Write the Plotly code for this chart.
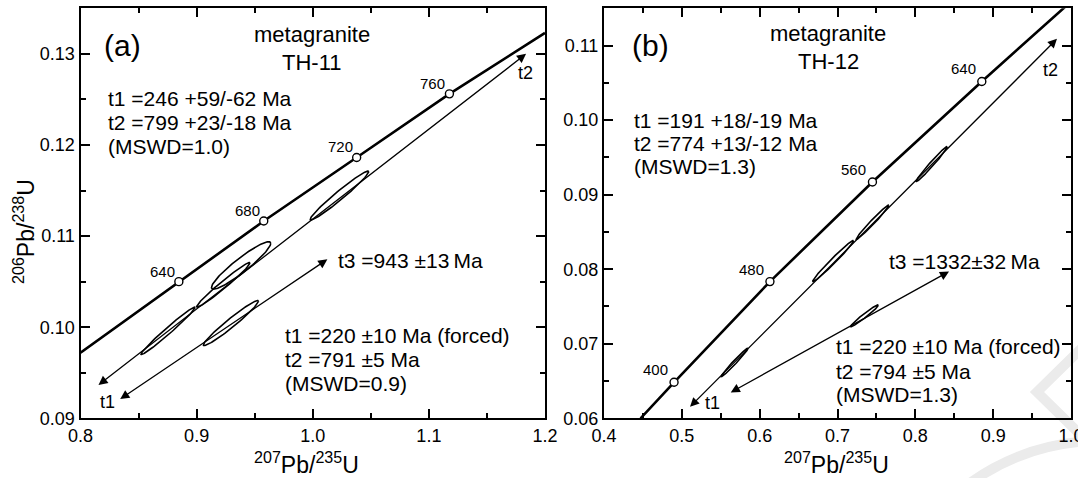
import numpy as np
import plotly.graph_objects as go

# ---------------- Panel (a) TH-11 ----------------
conc_a_x = [0.800, 0.8847, 0.9578, 1.0378, 1.1177, 1.200]
conc_a_y = [0.0972, 0.1050, 0.11165, 0.11863, 0.12561, 0.1323]
mark_a_age = ["640", "680", "720", "760"]
mark_a_x = [0.8847, 0.9578, 1.0378, 1.1177]
mark_a_y = [0.1050, 0.11165, 0.11863, 0.12561]

# discordia lines (start, end) with arrows at both ends
disc_a_x0 = [0.8142, 0.8329]
disc_a_y0 = [0.09353, 0.0920]
disc_a_x1 = [1.1837, 1.0126]
disc_a_y1 = [0.1300, 0.10745]

# error ellipses: centre, half-extent x, half-extent y, correlation
ell_a_cx = [0.8754, 0.9383, 0.9230, 1.0230, 0.9295]
ell_a_cy = [0.0996, 0.10678, 0.10465, 0.11445, 0.10045]
ell_a_sx = [0.0233, 0.0255, 0.0230, 0.0252, 0.0237]
ell_a_sy = [0.0026, 0.0026, 0.00245, 0.00268, 0.00247]
ell_a_rho = [0.985, 0.93, 0.98, 0.975, 0.97]

# ---------------- Panel (b) TH-12 ----------------
conc_b_x = [0.447, 0.490, 0.6132, 0.7449, 0.8854, 1.000]
conc_b_y = [0.0600, 0.06483, 0.07834, 0.0917, 0.10518, 0.1159]
mark_b_age = ["400", "480", "560", "640"]
mark_b_x = [0.490, 0.6132, 0.7449, 0.8854]
mark_b_y = [0.06483, 0.07834, 0.0917, 0.10518]

disc_b_x0 = [0.5086, 0.5609]
disc_b_y0 = [0.06134, 0.06336]
disc_b_x1 = [0.9820, 0.8433]
disc_b_y1 = [0.1109, 0.07969]

ell_b_cx = [0.5678, 0.6944, 0.7450, 0.8210, 0.7347]
ell_b_cy = [0.0675, 0.0811, 0.0863, 0.0941, 0.07375]
ell_b_sx = [0.0171, 0.0262, 0.0210, 0.0200, 0.0178]
ell_b_sy = [0.0019, 0.00275, 0.0023, 0.00234, 0.00146]
ell_b_rho = [0.985, 0.985, 0.985, 0.985, 0.975]

FONT = "Arial, Liberation Sans, sans-serif"
BLACK = "black"

fig = go.Figure()


def ellipse(cx, cy, sx, sy, rho, n=120):
    t = np.linspace(0, 2 * np.pi, n)
    x = cx + sx * np.cos(t)
    y = cy + sy * (rho * np.cos(t) + np.sqrt(1 - rho ** 2) * np.sin(t))
    return x, y


def add_panel(cx_l, cy_l, sx_l, sy_l, rho_l, conc_x, conc_y, mx, my, xa, ya):
    for cx, cy, sx, sy, rho in zip(cx_l, cy_l, sx_l, sy_l, rho_l):
        ex, ey = ellipse(cx, cy, sx, sy, rho)
        fig.add_trace(go.Scatter(x=ex, y=ey, mode="lines",
                                 line=dict(color=BLACK, width=1.6),
                                 xaxis=xa, yaxis=ya, hoverinfo="skip"))
    fig.add_trace(go.Scatter(x=conc_x, y=conc_y, mode="lines",
                             line=dict(color=BLACK, width=2.6),
                             xaxis=xa, yaxis=ya, hoverinfo="skip"))
    fig.add_trace(go.Scatter(x=mx, y=my, mode="markers",
                             marker=dict(symbol="circle", size=8, color="white",
                                         line=dict(color=BLACK, width=1.4)),
                             xaxis=xa, yaxis=ya, hoverinfo="skip"))


add_panel(ell_a_cx, ell_a_cy, ell_a_sx, ell_a_sy, ell_a_rho,
          conc_a_x, conc_a_y, mark_a_x, mark_a_y, "x", "y")
add_panel(ell_b_cx, ell_b_cy, ell_b_sx, ell_b_sy, ell_b_rho,
          conc_b_x, conc_b_y, mark_b_x, mark_b_y, "x2", "y2")

ann = []


def arrow(x0, y0, x1, y1, xr, yr):
    ann.append(dict(x=x1, y=y1, ax=x0, ay=y0, xref=xr, yref=yr, axref=xr, ayref=yr,
                    text="", showarrow=True, arrowside="end+start", arrowhead=2,
                    arrowsize=1.4, arrowwidth=1.3, arrowcolor=BLACK,
                    standoff=0, startstandoff=0))


for i in range(2):
    arrow(disc_a_x0[i], disc_a_y0[i], disc_a_x1[i], disc_a_y1[i], "x", "y")
    arrow(disc_b_x0[i], disc_b_y0[i], disc_b_x1[i], disc_b_y1[i], "x2", "y2")


def txt(x, y, s, xr, yr, size=21, xanchor="left", yanchor="middle", **kw):
    d = dict(x=x, y=y, text=s, xref=xr, yref=yr, showarrow=False,
             xanchor=xanchor, yanchor=yanchor,
             font=dict(family=FONT, size=size, color=BLACK))
    d.update(kw)
    ann.append(d)


# age labels on concordia
for lab, x, y in zip(mark_a_age, mark_a_x, mark_a_y):
    txt(x, y, lab, "x", "y", size=15, xanchor="right", yanchor="bottom", xshift=-2, yshift=0)
for lab, x, y in zip(mark_b_age, mark_b_x, mark_b_y):
    txt(x, y, lab, "x2", "y2", size=15, xanchor="right", yanchor="bottom", xshift=-4, yshift=2)

# panel (a) texts
txt(0.8364, 0.13095, "(a)", "x", "y", size=30, xanchor="center")
txt(0.9993, 0.1321, "metagranite", "x", "y", size=22, xanchor="center")
txt(0.9993, 0.1290, "TH-11", "x", "y", size=22, xanchor="center")
for s, y in zip(["t1 =246 +59/-62 Ma", "t2 =799 +23/-18 Ma", "(MSWD=1.0)"],
                [0.12506, 0.12243, 0.11987]):
    txt(0.8216, y, s, "x", "y")
txt(1.020, 0.10727, "t3 =943 ±13\u2009Ma", "x", "y")
for s, y in zip(["t1 =220 ±10 Ma (forced)", "t2 =791 ±5 Ma", "(MSWD=0.9)"],
                [0.09909, 0.09644, 0.09382]):
    txt(0.9741, y, s, "x", "y")
txt(0.8231, 0.09182, "t1", "x", "y", size=18, xanchor="center")
txt(1.1829, 0.12792, "t2", "x", "y", size=18, xanchor="center")

# panel (b) texts
txt(0.4598, 0.1100, "(b)", "x2", "y2", size=30, xanchor="center")
txt(0.6881, 0.11165, "metagranite", "x2", "y2", size=22, xanchor="center")
txt(0.6881, 0.10786, "TH-12", "x2", "y2", size=22, xanchor="center")
for s, y in zip(["t1 =191 +18/-19 Ma", "t2 =774 +13/-12 Ma", "(MSWD=1.3)"],
                [0.1000, 0.09692, 0.0938]):
    txt(0.4355, y, s, "x2", "y2")
txt(0.7635, 0.0810, "t3 =1332±32\u2009Ma", "x2", "y2")
for s, y in zip(["t1 =220 ±10 Ma (forced)", "t2 =794 ±5 Ma", "(MSWD=1.3)"],
                [0.06962, 0.06626, 0.06313]):
    txt(0.6957, y, s, "x2", "y2")
txt(0.5396, 0.06201, "t1", "x2", "y2", size=18, xanchor="center")
txt(0.974, 0.1067, "t2", "x2", "y2", size=18, xanchor="center")

# axis titles
xt = "<sup>207</sup>Pb/<sup>235</sup>U"
yt = "<sup>206</sup>Pb/<sup>238</sup>U"
txt(306.7 / 1078, 1 - 463 / 478, xt, "paper", "paper", size=23, xanchor="center")
txt(836 / 1078, 1 - 463 / 478, xt, "paper", "paper", size=23, xanchor="center")
txt(24 / 1078, 1 - 232 / 478, yt, "paper", "paper", size=23, xanchor="center",
    textangle=-90)

W, H = 1078, 478
ydom = [1 - 418.3 / H, 1 - 8.3 / H]


def xaxis(dom, rng, anchor):
    return dict(domain=dom, range=rng, anchor=anchor, dtick=0.1, tick0=0.0,
                tickformat=".1f", ticks="inside", ticklen=9, tickwidth=1.5,
                tickcolor=BLACK, showline=True, linewidth=2, linecolor=BLACK,
                mirror="ticks", showgrid=False, zeroline=False, automargin=False,
                ticklabeloverflow="allow",
                tickfont=dict(family=FONT, size=18, color=BLACK),
                minor=dict(ticks="inside", dtick=0.05, ticklen=5, tickwidth=1.5,
                           tickcolor=BLACK, showgrid=False))


def yaxis(rng, anchor):
    return dict(domain=ydom, range=rng, anchor=anchor, dtick=0.01, tick0=0.0,
                tickformat=".2f", ticks="inside", ticklen=9, tickwidth=1.5,
                tickcolor=BLACK, showline=True, linewidth=2, linecolor=BLACK,
                mirror="ticks", showgrid=False, zeroline=False, automargin=False,
                ticklabeloverflow="allow",
                tickfont=dict(family=FONT, size=18, color=BLACK),
                minor=dict(ticks="inside", dtick=0.005, ticklen=5, tickwidth=1.5,
                           tickcolor=BLACK, showgrid=False))


# faint watermark in the lower right corner
shapes = [
    dict(type="circle", xref="paper", yref="paper", layer="below",
         x0=878 / W, x1=1322 / W, y0=1 - 885 / H, y1=1 - 441 / H,
         line=dict(color="#ebebeb", width=10)),
    dict(type="path", xref="paper", yref="paper", layer="below",
         path=f"M {1090 / W} {1 - 340 / H} L {1037 / W} {1 - 392 / H} L {1090 / W} {1 - 444 / H}",
         line=dict(color="#ebebeb", width=10)),
]

fig.update_layout(
    width=W, height=H, margin=dict(l=0, r=0, t=0, b=0, autoexpand=False),
    paper_bgcolor="white", plot_bgcolor="rgba(0,0,0,0)", showlegend=False,
    xaxis=xaxis([80.5 / W, 545 / W], [0.8, 1.2], "y"),
    yaxis=yaxis([0.09, 0.135], "x"),
    xaxis2=xaxis([604 / W, 1071 / W], [0.4, 1.0], "y2"),
    yaxis2=yaxis([0.06, 0.115], "x2"),
    annotations=ann, shapes=shapes,
)

fig.write_html(
    "out.html",
    config={"displayModeBar": False},
    post_script="document.body.style.margin='0px';document.body.style.overflow='hidden';",
)
